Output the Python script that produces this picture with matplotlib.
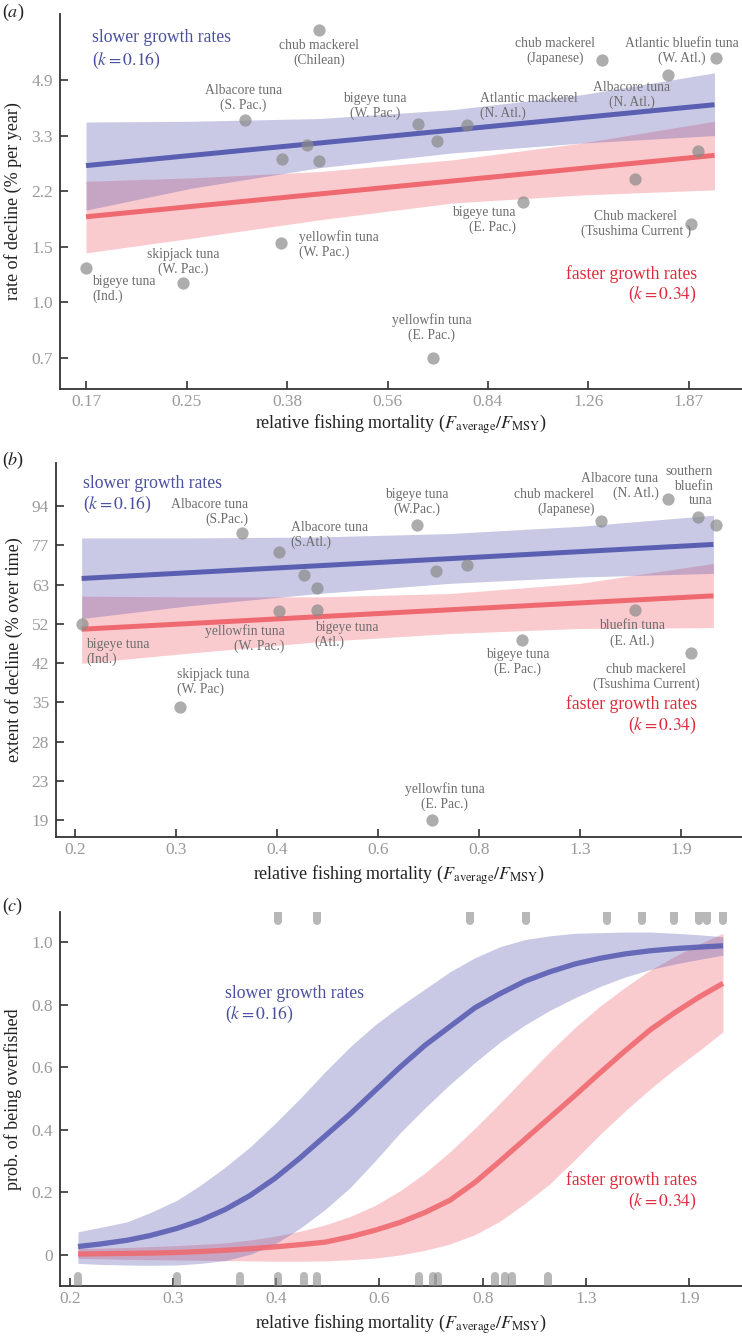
import matplotlib
matplotlib.use("Agg")
import matplotlib.pyplot as plt
import numpy as np

plt.rcParams["font.family"] = ["Liberation Serif", "DejaVu Serif"]
plt.rcParams["mathtext.fontset"] = "stix"

# ---------------- panel (a): rate of decline ----------------
a_stock = ["chub mackerel\n(Chilean)", "Albacore tuna\n(S. Pac.)", "", "", "",
           "yellowfin tuna\n(W. Pac.)", "skipjack tuna\n(W. Pac.)", "bigeye tuna\n(Ind.)",
           "bigeye tuna\n(W. Pac.)", "", "Atlantic mackerel\n(N. Atl.)",
           "chub mackerel\n(Japanese)", "Atlantic bluefin tuna\n(W. Atl.)",
           "Albacore tuna\n(N. Atl.)", "", "", "bigeye tuna\n(E. Pac.)",
           "Chub mackerel\n(Tsushima Current )", "yellowfin tuna\n(E. Pac.)"]
a_f = [0.430, 0.320, 0.370, 0.409, 0.430, 0.369, 0.250, 0.170, 0.637, 0.687,
       0.775, 1.324, 2.079, 1.720, 1.940, 1.510, 0.966, 1.884, 0.677]
a_rate = [6.93, 3.69, 2.82, 3.10, 2.77, 1.56, 1.18, 1.31, 3.61, 3.20,
          3.58, 5.65, 5.72, 5.06, 2.97, 2.45, 2.09, 1.79, 0.70]

a_band_f = [0.17, 0.26, 0.43, 0.73, 1.22, 2.07]
a_slow_hi = [3.65, 3.67, 3.74, 3.98, 4.42, 5.15]
a_slow_lo = [1.97, 2.30, 2.65, 2.94, 3.15, 3.32]
a_fast_hi = [2.41, 2.47, 2.58, 2.80, 3.15, 3.67]
a_fast_lo = [1.46, 1.62, 1.84, 2.07, 2.19, 2.27]
a_fit_f = [0.17, 2.07]
a_slow_fit = [2.69, 4.12]
a_fast_fit = [1.88, 2.89]

a_xticklabels = ["0.17", "0.25", "0.38", "0.56", "0.84", "1.26", "1.87"]
a_yticklabels = ["0.7", "1.0", "1.5", "2.2", "3.3", "4.9"]

# ---------------- panel (b): extent of decline ----------------
b_stock = ["Albacore tuna\n(S.Pac.)", "Albacore tuna\n(S.Atl.)", "", "",
           "yellowfin tuna\n(W. Pac.)", "bigeye tuna\n(Atl.)", "bigeye tuna\n(Ind.)",
           "skipjack tuna\n(W. Pac)", "bigeye tuna\n(W.Pac.)", "", "",
           "chub mackerel\n(Japanese)", "Albacore tuna\n(N. Atl.)",
           "southern\nbluefin\ntuna", "", "bluefin tuna\n(E. Atl.)",
           "bigeye tuna\n(E. Pac.)", "chub mackerel\n(Tsushima Current)",
           "yellowfin tuna\n(E. Pac.)"]
b_f = [0.372, 0.426, 0.468, 0.491, 0.426, 0.491, 0.2055, 0.295, 0.712, 0.765,
       0.857, 1.414, 1.807, 2.023, 2.162, 1.601, 1.052, 1.973, 0.753]
b_extent = [82.1, 74.4, 66.3, 62.0, 55.1, 55.3, 51.5, 33.8, 85.3, 67.5,
            69.6, 87.1, 97.2, 88.8, 85.3, 55.5, 47.5, 44.4, 19.0]

b_band_f = [0.205, 0.303, 0.493, 0.803, 1.306, 2.143]
b_slow_hi = [79.9, 79.9, 80.3, 81.7, 84.8, 89.7]
b_slow_lo = [53.0, 56.5, 60.2, 63.4, 65.5, 66.7]
b_fast_hi = [59.4, 59.2, 59.2, 60.2, 63.4, 70.2]
b_fast_lo = [42.2, 44.4, 47.1, 49.1, 50.4, 50.6]
b_fit_f = [0.205, 2.143]
b_slow_fit = [65.0, 77.3]
b_fast_fit = [50.2, 59.5]

b_xticklabels = ["0.2", "0.3", "0.4", "0.6", "0.8", "1.3", "1.9"]
b_yticklabels = ["19", "23", "28", "35", "42", "52", "63", "77", "94"]

# ---------------- panel (c): probability of being overfished ----------------
c_f = [0.2059, 0.2231, 0.2461, 0.2675, 0.2952, 0.3209, 0.3514, 0.3849, 0.4215,
       0.4617, 0.5056, 0.5538, 0.6064, 0.6642, 0.7274, 0.7966, 0.8724, 0.9555,
       1.0464, 1.1462, 1.2553, 1.3745, 1.5054, 1.6488, 1.8058, 1.9776, 2.150]
c_slow = [0.027, 0.035, 0.047, 0.062, 0.085, 0.110, 0.145, 0.190, 0.245,
          0.310, 0.380, 0.450, 0.525, 0.600, 0.670, 0.730, 0.790, 0.835,
          0.875, 0.905, 0.930, 0.948, 0.962, 0.972, 0.979, 0.984, 0.988]
c_slow_hi = [0.074, 0.088, 0.106, 0.135, 0.175, 0.222, 0.280, 0.345, 0.420,
             0.500, 0.585, 0.665, 0.735, 0.795, 0.850, 0.905, 0.950, 0.985,
             1.008, 1.020, 1.028, 1.030, 1.032, 1.032, 1.028, 1.023, 1.017]
c_slow_lo = [-0.027, -0.030, -0.032, -0.033, -0.032, -0.027, -0.018, 0.002, 0.035,
             0.085, 0.145, 0.215, 0.300, 0.390, 0.470, 0.545, 0.615, 0.680,
             0.735, 0.782, 0.822, 0.858, 0.888, 0.912, 0.930, 0.945, 0.958]
c_fast = [0.003, 0.004, 0.005, 0.006, 0.008, 0.011, 0.015, 0.020, 0.026,
          0.033, 0.041, 0.058, 0.079, 0.104, 0.136, 0.175, 0.232, 0.300,
          0.370, 0.440, 0.510, 0.582, 0.652, 0.719, 0.775, 0.826, 0.868]
c_fast_hi = [0.021, 0.022, 0.024, 0.027, 0.030, 0.034, 0.039, 0.048, 0.060,
             0.076, 0.096, 0.123, 0.158, 0.205, 0.262, 0.330, 0.405, 0.485,
             0.568, 0.650, 0.727, 0.795, 0.855, 0.910, 0.955, 0.995, 1.028]
c_fast_lo = [-0.011, -0.012, -0.014, -0.015, -0.016, -0.017, -0.018, -0.019, -0.020,
             -0.020, -0.019, -0.015, -0.010, 0.000, 0.015, 0.035, 0.065, 0.108,
             0.165, 0.228, 0.305, 0.385, 0.460, 0.530, 0.595, 0.655, 0.713]
c_not_overfished = [0.2057, 0.2948, 0.371, 0.426, 0.469, 0.491, 0.712, 0.749, 0.763,
                    0.938, 0.973, 0.997, 1.139]
c_overfished = [0.426, 0.491, 0.857, 1.049, 1.409, 1.600, 1.801, 1.970, 2.026, 2.152]
c_yticks = [0, 0.2, 0.4, 0.6, 0.8, 1.0]
c_yticklabels = ["0", "0.2", "0.4", "0.6", "0.8", "1.0"]

# label offsets in pixels (dx, dy up), alignment
a_offsets = [(0, -23, "center"), (-2, 22, "center"), None, None, None,
             (18, -1, "left"), (0, 21, "center"), (6, -21, "left"),
             (-43, 18, "center"), None, (13, 19, "left"), (-47, 9, "center"),
             (-34, 7, "center"), (-36, -20, "center"), None, None,
             (-7, -18, "right"), (-55, 0, "center"), (-2, 30, "center")]
b_offsets = [(6, 21, "right"), (12, 17, "left"), None, None, (6, -28, "right"),
             (-2, -25, "left"), (4, -28, "left"), (-3, 25, "left"), (0, 23, "center"),
             None, None, (-7, 19, "right"), (-9, 13, "right"), (-9, 31, "center"),
             None, (-3, -24, "center"), (-4, -22, "center"), (-45, -24, "center"),
             (13, 23, "center")]

BLUE_TXT = "#4a509f"
RED_TXT = "#e02a3c"
BLUE_LINE = "#5b5fb2"
RED_LINE = "#ee6a70"
BLUE_FILL = "#5252b0"
RED_FILL = "#f04650"
DOT = "#8a8a8a"
NOTE_COL = "#6e6e6e"
TICK_COL = "#9a9a9a"
AXIS_COL = "#333333"
LABEL_COL = "#222222"

XLABEL = r"relative fishing mortality ($F_{\mathrm{average}}/F_{\mathrm{MSY}}$)"


def style_axes(ax, xticks, xlabels, yticks, ylabels, xlim, ylim, ylog=True):
    ax.set_xscale("log")
    if ylog:
        ax.set_yscale("log")
    ax.set_xlim(*xlim)
    ax.set_ylim(*ylim)
    ax.set_xticks(xticks, labels=xlabels)
    ax.set_yticks(yticks, labels=ylabels)
    ax.minorticks_off()
    for side in ("top", "right"):
        ax.spines[side].set_visible(False)
    for side in ("left", "bottom"):
        ax.spines[side].set_color(AXIS_COL)
        ax.spines[side].set_linewidth(1.3)
    ax.tick_params(direction="in", length=6, width=1.2, color=AXIS_COL,
                   labelcolor=TICK_COL, labelsize=12.5)
    ax.tick_params(axis="x", pad=3.5)
    ax.tick_params(axis="y", pad=5)


def draw_bands(ax, xs, slo, shi, flo, fhi):
    ax.fill_between(xs, flo, fhi, color=RED_FILL, alpha=0.28, lw=0)
    ax.fill_between(xs, slo, shi, color=BLUE_FILL, alpha=0.31, lw=0)


def draw_points(ax, xs, ys, names, offsets):
    ax.scatter(xs, ys, s=78, color=DOT, alpha=0.7, lw=0, zorder=5)
    for x, y, name, off in zip(xs, ys, names, offsets):
        if off is None:
            continue
        dx, dy, ha = off
        ma = "right" if name.startswith("southern") else ha
        ax.annotate(name, (x, y), xytext=(dx, dy), textcoords="offset pixels",
                    ha=ha, va="center", multialignment=ma, fontsize=9.8,
                    color=NOTE_COL, linespacing=1.15, zorder=6)


def group_labels(ax, slow_x, slow_y, fast_x, fast_y):
    # one text per line so each box hugs its own line
    ax.text(slow_x, slow_y[0], "slower growth rates", transform=ax.transAxes,
            ha="left", va="center", color=BLUE_TXT, fontsize=12.7)
    ax.text(slow_x, slow_y[1], "($k=0.16$)", transform=ax.transAxes,
            ha="left", va="center", color=BLUE_TXT, fontsize=12.7)
    ax.text(fast_x, fast_y[0], "faster growth rates", transform=ax.transAxes,
            ha="right", va="center", color=RED_TXT, fontsize=12.7)
    ax.text(fast_x, fast_y[1], "($k=0.34$)", transform=ax.transAxes,
            ha="right", va="center", color=RED_TXT, fontsize=12.7)


fig = plt.figure(figsize=(7.42, 13.39), dpi=100)
ax_a = fig.add_axes([0.0809, 0.7095, 0.9191, 0.2801])
ax_b = fig.add_axes([0.0755, 0.3749, 0.9245, 0.2793])
ax_c = fig.add_axes([0.0809, 0.0396, 0.9191, 0.2793])

# panel a
draw_bands(ax_a, a_band_f, a_slow_lo, a_slow_hi, a_fast_lo, a_fast_hi)
ax_a.plot(a_fit_f, a_fast_fit, color=RED_LINE, lw=3.6, solid_capstyle="butt")
ax_a.plot(a_fit_f, a_slow_fit, color=BLUE_LINE, lw=3.6, solid_capstyle="butt")
draw_points(ax_a, a_f, a_rate, a_stock, a_offsets)
style_axes(ax_a, np.geomspace(0.17, 1.87, 7), a_xticklabels,
           np.geomspace(0.7, 4.9, 6), a_yticklabels, (0.1533, 2.309), (0.563, 7.78))
group_labels(ax_a, 0.047, (0.936, 0.877), 0.934, (0.307, 0.251))
ax_a.set_ylabel("rate of decline (% per year)", fontsize=13, color=LABEL_COL)
ax_a.yaxis.set_label_coords(-0.056, 0.5)
ax_a.set_xlabel(XLABEL, fontsize=13, color=LABEL_COL)
ax_a.xaxis.set_label_coords(0.5, -0.062)

# panel b
draw_bands(ax_b, b_band_f, b_slow_lo, b_slow_hi, b_fast_lo, b_fast_hi)
ax_b.plot(b_fit_f, b_fast_fit, color=RED_LINE, lw=3.6, solid_capstyle="butt")
ax_b.plot(b_fit_f, b_slow_fit, color=BLUE_LINE, lw=3.6, solid_capstyle="butt")
draw_points(ax_b, b_f, b_extent, b_stock, b_offsets)
style_axes(ax_b, np.geomspace(0.2, 1.9, 7), b_xticklabels,
           np.geomspace(19, 94, 9), b_yticklabels, (0.1864, 2.383), (17.43, 117.0))
group_labels(ax_b, 0.039, (0.946, 0.889), 0.934, (0.356, 0.297))
ax_b.set_ylabel("extent of decline (% over time)", fontsize=13, color=LABEL_COL)
ax_b.yaxis.set_label_coords(-0.048, 0.5)
ax_b.set_xlabel(XLABEL, fontsize=13, color=LABEL_COL)
ax_b.xaxis.set_label_coords(0.5, -0.07)

# panel c
draw_bands(ax_c, c_f, c_slow_lo, c_slow_hi, c_fast_lo, c_fast_hi)
ax_c.plot(c_f, c_fast, color=RED_LINE, lw=3.8, alpha=0.9, solid_capstyle="butt")
ax_c.plot(c_f, c_slow, color=BLUE_LINE, lw=3.8, alpha=0.9, solid_capstyle="butt")
ax_c.vlines(c_not_overfished, -0.3, -0.066, colors=DOT, alpha=0.6, lw=5.8,
            capstyle="round", zorder=5)
ax_c.vlines(c_overfished, 1.067, 1.3, colors=DOT, alpha=0.6, lw=5.8,
            capstyle="round", zorder=5)
style_axes(ax_c, np.geomspace(0.2, 1.9, 7), b_xticklabels,
           c_yticks, c_yticklabels, (0.1929, 2.304), (-0.099, 1.096), ylog=False)
group_labels(ax_c, 0.242, (0.783, 0.727), 0.934, (0.283, 0.225))
ax_c.set_ylabel("prob. of being overfished", fontsize=13, color=LABEL_COL)
ax_c.yaxis.set_label_coords(-0.056, 0.5)
ax_c.set_xlabel(XLABEL, fontsize=13, color=LABEL_COL)
ax_c.xaxis.set_label_coords(0.5, -0.07)

for letter, ypos in (("a", 0.991), ("b", 0.6565), ("c", 0.3234)):
    fig.text(0.003, ypos, "($%s$)" % letter, fontsize=13, color=LABEL_COL,
             ha="left", va="center")

fig.savefig("out.png", dpi=100)
